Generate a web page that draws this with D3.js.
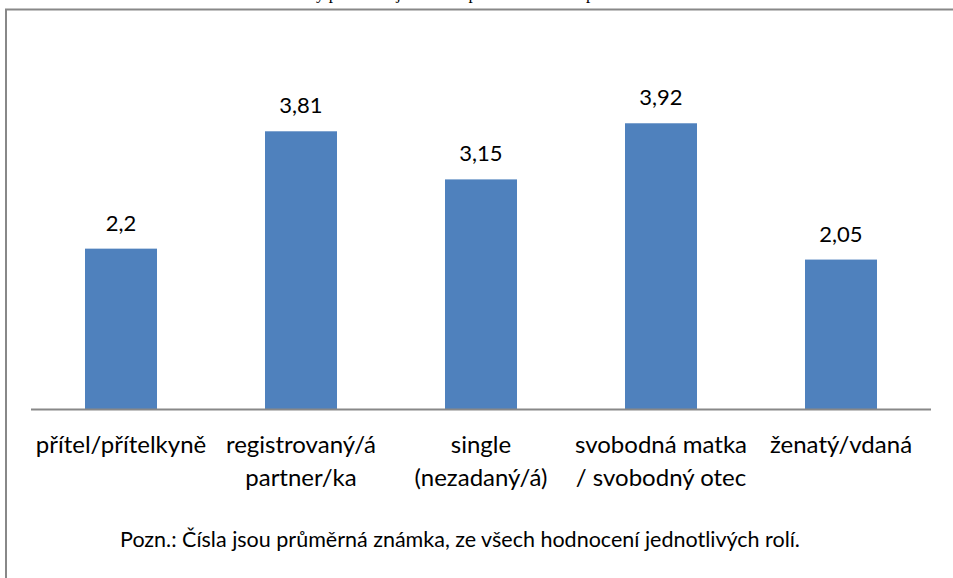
<!DOCTYPE html>
<html>
<head>
<meta charset="utf-8">
<script src="https://cdn.jsdelivr.net/npm/d3@7"></script>
<style>
  body { margin: 0; background: #fff; overflow: hidden; }
  svg { display: block; }
  svg text { font-family: Lato, "Open Sans", sans-serif; fill: #000; }
</style>
</head>
<body>
<div id="chart"></div>
<script>
var categories = [
    ["přítel/přítelkyně"],
    ["registrovaný/á", "partner/ka"],
    ["single", "(nezadaný/á)"],
    ["svobodná matka", "/ svobodný otec"],
    ["ženatý/vdaná"]
];
var values = [2.2, 3.81, 3.15, 3.92, 2.05];
var valueLabels = ["2,2", "3,81", "3,15", "3,92", "2,05"];
var title = "Hodnocení – známky přiřazené jednotlivé partnerské role a postavení";
var note = "Pozn.: Čísla jsou průměrná známka, ze všech hodnocení jednotlivých rolí.";

var width = 953,
    height = 578,
    left = 31,
    right = 931,
    base = 409;

var svg = d3.select("#chart").append("svg")
    .attr("width", width)
    .attr("height", height);

// title of the page above, cut off - only descenders peek in
var t = svg.append("text")
    .attr("y", -1)
    .style("font-family", "'Liberation Serif', serif")
    .style("font-size", "17px")
    .text(title);
var yi = title.indexOf("y");
var off = t.node().getStartPositionOfChar(yi).x;
t.attr("x", 316 - off);

// chart frame (runs past the right and bottom edge)
svg.append("rect")
    .attr("x", 6)
    .attr("y", 9.5)
    .attr("width", 1100)
    .attr("height", 700)
    .style("fill", "none")
    .style("stroke", "#888")
    .style("stroke-width", 2);

var x = d3.scaleBand()
    .domain(d3.range(categories.length))
    .range([left, right])
    .paddingInner(0.6)
    .paddingOuter(0.3);

var y = d3.scaleLinear()
    .domain([0, 4.5])
    .range([base, 81]);

svg.selectAll("rect.bar")
    .data(values)
    .enter()
    .append("rect")
    .attr("class", "bar")
    .attr("x", function(d, i) { return x(i); })
    .attr("y", function(d) { return y(d); })
    .attr("width", x.bandwidth())
    .attr("height", function(d) { return base - y(d); })
    .style("fill", "#4F81BD");

svg.selectAll("text.val")
    .data(values)
    .enter()
    .append("text")
    .attr("class", "val")
    .attr("x", function(d, i) { return x(i) + x.bandwidth() / 2; })
    .attr("y", function(d) { return y(d) - 18; })
    .attr("text-anchor", "middle")
    .style("font-size", "22px")
    .text(function(d, i) { return valueLabels[i]; });

// axis line
svg.append("line")
    .attr("x1", left)
    .attr("x2", right)
    .attr("y1", base + 0.5)
    .attr("y2", base + 0.5)
    .style("stroke", "#888")
    .style("stroke-width", 2);

var cat = svg.selectAll("text.cat")
    .data(categories)
    .enter()
    .append("text")
    .attr("class", "cat")
    .attr("text-anchor", "middle")
    .style("font-size", "24px");

cat.selectAll("tspan")
    .data(function(d, i) { return d.map(function(s) { return {s: s, i: i}; }); })
    .enter()
    .append("tspan")
    .attr("x", function(d) { return x(d.i) + x.bandwidth() / 2; })
    .attr("y", function(d, j) { return 453 + j * 33; })
    .text(function(d) { return d.s; });

svg.append("text")
    .attr("x", 460)
    .attr("y", 547)
    .attr("text-anchor", "middle")
    .style("font-size", "21.5px")
    .text(note);
</script>
</body>
</html>
